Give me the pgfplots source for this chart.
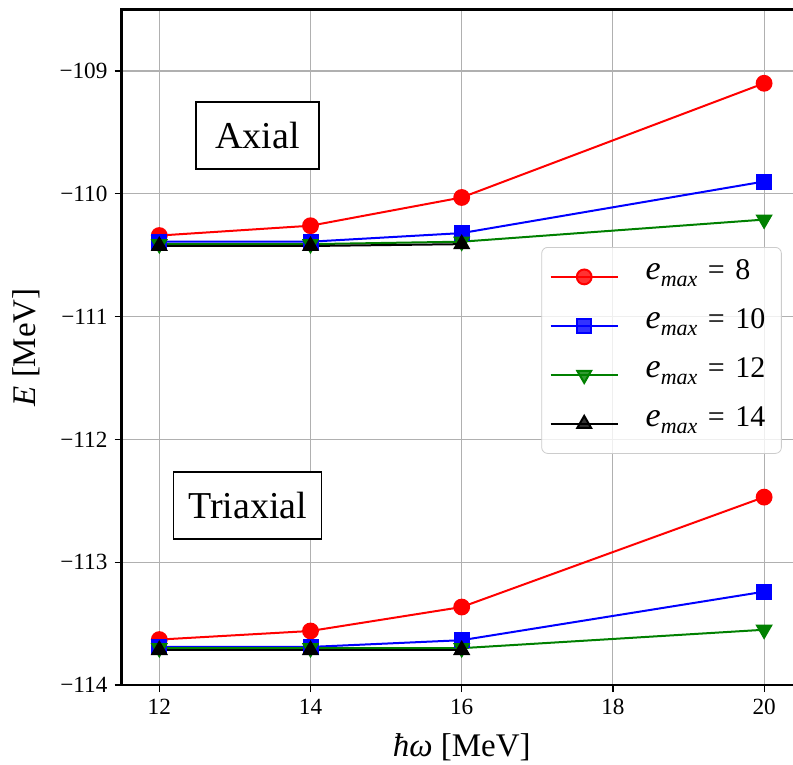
\documentclass[border=0pt]{standalone}
\usepackage{fontspec}
\setmainfont{Liberation Serif}
\usepackage{pgfplots}
\pgfplotsset{compat=1.18}

\definecolor{mplgreen}{rgb}{0,0.5,0}
\definecolor{gridgray}{HTML}{B0B0B0}
\definecolor{legframe}{HTML}{CCCCCC}

% legend label: e_max = n
\newcommand{\emax}[1]{{\fontsize{17}{17}\selectfont\textit{e}}%
  \raisebox{-0.22em}{\fontsize{11}{11}\selectfont\textit{max}}%
  \hspace{0.35em}=\hspace{0.35em}#1}

\begin{document}
\begin{tikzpicture}
\begin{axis}[
  scale only axis,
  width=340.2pt, height=337.7pt,
  xmin=11.5, xmax=20.5, ymin=-114, ymax=-108.5,
  xtick={12,14,16,18,20},
  ytick={-114,-113,-112,-111,-110,-109},
  yticklabels={−114,−113,−112,−111,−110,−109},
  xtick pos=left, ytick pos=left,
  tick align=outside,
  major tick length=3.5pt,
  every tick/.style={black, line width=0.6pt},
  grid=major,
  major grid style={gridgray, line width=0.55pt},
  axis line style={line width=1.25pt},
  /pgf/number format/assume math mode=true,
  tick label style={font=\fontsize{11.6}{13}\selectfont},
  label style={font=\fontsize{16.5}{18}\selectfont},
  xlabel={\textit{ħω} [MeV]},
  ylabel={\textit{E} [MeV]},
  xlabel style={at={(axis description cs:0.5,-0.0925)}, anchor=center},
  ylabel style={at={(axis description cs:-0.14,0.5)}, anchor=center},
  legend style={at={(0.617,0.6485)}, anchor=north west,
    draw=legframe, rounded corners=3pt, fill=white, fill opacity=0.8,
    text opacity=1, font=\fontsize{15}{17}\selectfont,
    inner xsep=4pt, inner ysep=2.5pt, row sep=0pt,
    nodes={inner xsep=4pt, inner ysep=0pt, text height=13.5pt, text depth=11pt},
    /tikz/every odd column/.append style={column sep=9.5pt}},
  legend cell align=left,
  legend image code/.code={%
    \draw[mark repeat=2, mark phase=2, #1]
      plot coordinates {(0pt,0pt) (16.75pt,0pt) (33.5pt,0pt)};},
  every axis plot/.append style={line width=1pt},
]

% axial configuration
\addplot[red, mark=*, mark size=3.7pt, mark options={solid, draw=none, fill=red}]
  coordinates {(12,-110.34) (14,-110.26) (16,-110.03) (20,-109.10)};
\addlegendentry{\emax{8}}
\addplot[blue, mark=square*, mark size=3.5pt, mark options={solid, draw=none, fill=blue}]
  coordinates {(12,-110.39) (14,-110.39) (16,-110.32) (20,-109.90)};
\addlegendentry{\emax{10}}
\addplot[mplgreen, mark=triangle*, mark size=4pt, mark options={solid, rotate=180, draw=none, fill=mplgreen}]
  coordinates {(12,-110.41) (14,-110.41) (16,-110.39) (20,-110.21)};
\addlegendentry{\emax{12}}
\addplot[black, mark=triangle*, mark size=4pt, mark options={solid, draw=none, fill=black}]
  coordinates {(12,-110.425) (14,-110.425) (16,-110.41)};
\addlegendentry{\emax{14}}

% triaxial configuration
\addplot[red, mark=*, mark size=3.7pt, mark options={solid, draw=none, fill=red}, forget plot]
  coordinates {(12,-113.63) (14,-113.56) (16,-113.365) (20,-112.47)};
\addplot[blue, mark=square*, mark size=3.5pt, mark options={solid, draw=none, fill=blue}, forget plot]
  coordinates {(12,-113.69) (14,-113.69) (16,-113.635) (20,-113.24)};
\addplot[mplgreen, mark=triangle*, mark size=4pt, mark options={solid, rotate=180, draw=none, fill=mplgreen}, forget plot]
  coordinates {(12,-113.70) (14,-113.70) (16,-113.70) (20,-113.55)};
\addplot[black, mark=triangle*, mark size=4pt, mark options={solid, draw=none, fill=black}, forget plot]
  coordinates {(12,-113.715) (14,-113.715) (16,-113.715)};

\node[draw, fill=white, line width=0.6pt, minimum width=61.5pt, minimum height=33.5pt,
      font=\fontsize{19}{22}\selectfont] at (axis cs:13.30,-109.525) {Axial};
\node[draw, fill=white, line width=0.6pt, minimum width=74pt, minimum height=33.5pt,
      font=\fontsize{19}{22}\selectfont] at (axis cs:13.17,-112.538) {Triaxial};
\end{axis}
\pgfresetboundingbox
\path[use as bounding box]
  ([xshift=-60.75pt, yshift=-39.5pt]current axis.south west)
  rectangle ([xshift=-4.45pt, yshift=4.8pt]current axis.north east);
\end{tikzpicture}
\end{document}
